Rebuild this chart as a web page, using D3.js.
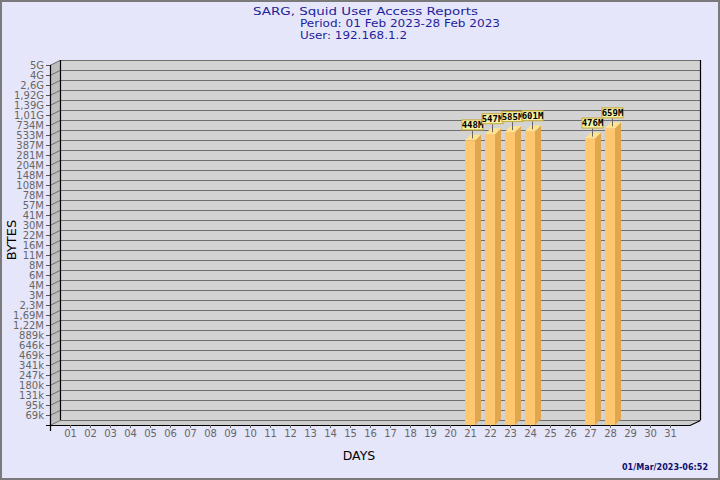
<!DOCTYPE html>
<html>
<head>
<meta charset="utf-8">
<script src="https://cdn.jsdelivr.net/npm/d3@7/dist/d3.min.js"></script>
<style>
  html, body { margin: 0; padding: 0; background: #e6e6fa; }
  svg { display: block; }
  text { font-family: "DejaVu Sans", sans-serif; }
</style>
</head>
<body>
<svg id="chart" width="720" height="480"></svg>
<script>
// ---- data ----
const titleLines = ["SARG, Squid User Access Reports", "Period: 01 Feb 2023-28 Feb 2023", "User: 192.168.1.2"];
const days = ["01","02","03","04","05","06","07","08","09","10","11","12","13","14","15","16",
              "17","18","19","20","21","22","23","24","25","26","27","28","29","30","31"];
const yTickLabels = ["69k","95k","131k","180k","247k","341k","469k","646k","889k","1,22M","1,69M","2,3M",
                     "3M","4M","6M","8M","11M","16M","22M","30M","41M","57M","78M","108M","148M","204M",
                     "281M","387M","533M","734M","1,01G","1,39G","1,92G","2,6G","4G","5G"];
const barDays   = ["21","22","23","24","27","28"];
const barBytes  = [448e6, 547e6, 585e6, 601e6, 476e6, 659e6];
const barLabels = ["448M","547M","585M","601M","476M","659M"];
const yMin = 5e4, yMax = 5e9;
const footer = "01/Mar/2023-06:52";

// ---- layout ----
const W = 720, H = 480;
const front = {left: 50, right: 690, top: 65, bottom: 425};
const depth = {dx: 10, dy: -5};
const barDepth = {dx: 6, dy: -6};
const barW = 10;

const svg = d3.select("#chart");

svg.append("rect").attr("x", 1).attr("y", 1).attr("width", W - 2).attr("height", H - 2)
  .attr("fill", "#e6e6fa").attr("stroke", "#7a7a7a").attr("stroke-width", 2);

// scales
const x = d3.scalePoint().domain(days).range([front.left + 20, front.right - 20]);
const y = d3.scaleLog().domain([yMin, yMax]).range([front.bottom, front.top]);
const yTicks = d3.scalePoint().domain(yTickLabels).range([front.bottom - 10, front.top]);

const bx0 = front.left + depth.dx, bx1 = front.right + depth.dx;
const by0 = front.top + depth.dy, by1 = front.bottom + depth.dy;

// back wall
svg.append("rect").attr("x", bx0).attr("y", by0).attr("width", bx1 - bx0).attr("height", by1 - by0)
  .attr("fill", "#d3d3d3");
// left wall
svg.append("polygon")
  .attr("points", [[front.left, front.top], [bx0, by0], [bx0, by1], [front.left, front.bottom]].join(" "))
  .attr("fill", "#bebebe");
// floor
svg.append("polygon")
  .attr("points", [[front.left, front.bottom], [bx0, by1], [bx1, by1], [front.right, front.bottom]].join(" "))
  .attr("fill", "#cdcdcd");

// gridlines + diagonal ticks
const grid = svg.append("g");
yTickLabels.forEach(l => {
  const yy = yTicks(l);
  grid.append("line").attr("x1", bx0).attr("x2", bx1).attr("y1", yy + depth.dy + 0.5).attr("y2", yy + depth.dy + 0.5)
    .attr("stroke", "#6e6e6e").attr("stroke-width", 1);
  grid.append("line").attr("x1", front.left).attr("y1", yy + 0.5).attr("x2", bx0).attr("y2", yy + depth.dy + 0.5)
    .attr("stroke", "#6e6e6e").attr("stroke-width", 1);
});
grid.append("line").attr("x1", bx0).attr("x2", bx1).attr("y1", by1 + 0.5).attr("y2", by1 + 0.5)
  .attr("stroke", "#6e6e6e");
grid.append("line").attr("x1", front.left).attr("y1", front.bottom + 0.5).attr("x2", bx0).attr("y2", by1 + 0.5)
  .attr("stroke", "#6e6e6e");

// walls' black edges
const edges = svg.append("g").attr("stroke", "#000").attr("stroke-width", 1.2).attr("fill", "none");
edges.append("line").attr("x1", bx0 + 0.5).attr("x2", bx0 + 0.5).attr("y1", by0).attr("y2", by1);
edges.append("line").attr("x1", bx1 + 0.5).attr("x2", bx1 + 0.5).attr("y1", by0).attr("y2", by1);
edges.append("polyline")
  .attr("points", [[front.left - 4, front.bottom + 0.5], [front.right, front.bottom + 0.5], [bx1 + 0.5, by1 + 0.5]].join(" "));
edges.append("line").attr("x1", front.left + 0.5).attr("x2", front.left + 0.5).attr("y1", front.top).attr("y2", front.bottom + 6);

// y axis
const yAxis = d3.axisLeft(yTicks).tickSize(4).tickPadding(2);
const gy = svg.append("g").attr("transform", `translate(${front.left},0)`).call(yAxis);
gy.select(".domain").remove();
gy.selectAll(".tick line").attr("stroke", "#555");
gy.selectAll(".tick text").attr("fill", "#666").style("font-size", "10px").style("font-family", "DejaVu Sans");

// x axis
const xAxis = d3.axisBottom(x).tickSize(3).tickPadding(2);
const gx = svg.append("g").attr("transform", `translate(0,${front.bottom})`).call(xAxis);
gx.select(".domain").remove();
gx.selectAll(".tick line").attr("stroke", "#666");
gx.selectAll(".tick text").attr("fill", "#666").style("font-size", "10px").style("font-family", "DejaVu Sans");

// bars
const bars = svg.append("g");
barDays.forEach((d, i) => {
  const cx = x(d), yv = y(barBytes[i]);
  const l = cx - barW / 2, r = cx + barW / 2;
  bars.append("polygon")
    .attr("points", [[r, front.bottom], [r, yv], [r + barDepth.dx, yv + barDepth.dy], [r + barDepth.dx, front.bottom + barDepth.dy]].join(" "))
    .attr("fill", "#e0a74e");
  bars.append("polygon")
    .attr("points", [[l, yv], [l + barDepth.dx, yv + barDepth.dy], [r + barDepth.dx, yv + barDepth.dy], [r, yv]].join(" "))
    .attr("fill", "#ffe38e");
  bars.append("rect").attr("x", l).attr("y", yv).attr("width", barW).attr("height", front.bottom - yv)
    .attr("fill", "#ffc870");
});

// value labels
const labs = svg.append("g");
barDays.forEach((d, i) => {
  const cx = x(d) + 2.5, yv = y(barBytes[i]);
  labs.append("line").attr("x1", cx).attr("x2", cx).attr("y1", yv - 10).attr("y2", yv - 2)
    .attr("stroke", "#666");
  labs.append("rect").attr("x", cx - 10.5).attr("y", yv - 20.5).attr("width", 21).attr("height", 10)
    .attr("fill", "#f5f0a8").attr("stroke", "#c8a832").attr("stroke-width", 1);
  labs.append("text").attr("x", cx).attr("y", yv - 12.5).attr("text-anchor", "middle")
    .style("font-family", "DejaVu Sans Mono").style("font-weight", "bold").style("font-size", "9px")
    .attr("fill", "#000").text(barLabels[i]);
});

// titles
const tc = "#1e1e9a";
const titleSpec = [{x: 253, y: 14.5, len: 225}, {x: 300, y: 26.8, len: 200}, {x: 300, y: 39.1, len: 107}];
titleLines.forEach((t, i) => {
  svg.append("text").attr("x", titleSpec[i].x).attr("y", titleSpec[i].y).attr("fill", tc)
    .style("font-size", "10.5px")
    .attr("textLength", titleSpec[i].len).attr("lengthAdjust", "spacingAndGlyphs").text(t);
});

// axis titles
svg.append("text").attr("transform", "translate(16,240) rotate(-90)").attr("text-anchor", "middle")
  .attr("fill", "#000").style("font-size", "13px").text("BYTES");
svg.append("text").attr("x", 359).attr("y", 460).attr("text-anchor", "middle")
  .attr("fill", "#000").style("font-size", "12.5px").text("DAYS");

// footer
svg.append("text").attr("x", 708).attr("y", 470).attr("text-anchor", "end")
  .attr("fill", "#10106e").style("font-size", "9px").style("font-weight", "bold")
  .attr("textLength", 86).attr("lengthAdjust", "spacingAndGlyphs").text(footer);
</script>
</body>
</html>
